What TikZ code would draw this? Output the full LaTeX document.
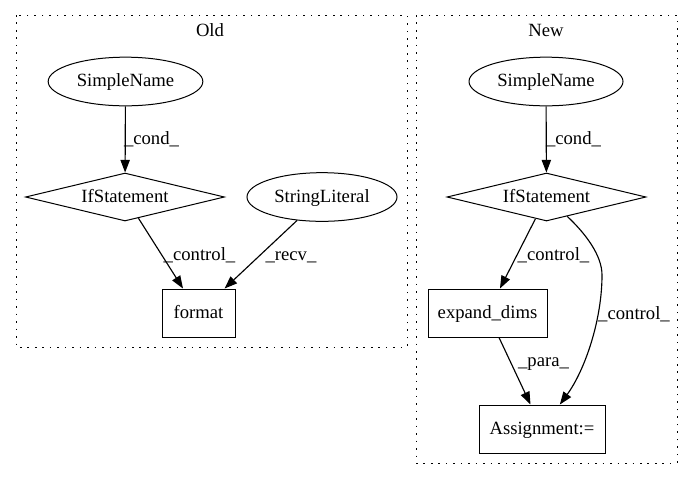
\documentclass[tikz,border=0pt]{standalone}
\usepackage{fontspec}
\setmainfont{Liberation Serif}
\usetikzlibrary{shapes.geometric,arrows.meta}
\begin{document}
\begin{tikzpicture}[x=0.75pt,y=-0.75pt,
  every node/.style={font=\fontsize{14pt}{16pt}\selectfont},
  base/.style={draw,line width=0.75pt,inner sep=0pt,text height=10pt,text depth=1.8pt},
  ell/.style={base,ellipse,minimum height=36.5pt},
  dia/.style={base,diamond,aspect=4.15,minimum width=149.25pt,minimum height=36pt},
  box/.style={base,rectangle,minimum height=36pt},
  edge/.style={line width=0.85pt,-{Triangle[length=9.5pt,width=7pt]}},
  lbl/.style={anchor=base,inner sep=0pt},
  cluster/.style={line width=0.75pt,dash pattern=on 1.2pt off 4.4pt}]
\useasboundingbox (0,0) rectangle (692,480);
% clusters
\draw[cluster] (16,15) rectangle (407,347);
\draw[cluster] (416,15) rectangle (677,463);
\node[lbl] (oldlbl) at (210,36) {Old};
\node[lbl] (newlbl) at (546,36) {New};
% Old nodes
\node[ell,minimum width=116pt] (sn1) at (125.5,81.5) {SimpleName};
\node[dia] (if1) at (125,197) {IfStatement};
\node[ell,minimum width=112.5pt] (sl) at (322,197) {StringLiteral};
\node[box,minimum width=54.75pt] (fmt) at (198.5,313) {format};
% New nodes
\node[ell,minimum width=115.5pt] (sn2) at (546,81.5) {SimpleName};
\node[dia] (if2) at (546.5,197) {IfStatement};
\node[box,minimum width=89.25pt] (exd) at (487.5,313) {expand\_dims};
\node[box,minimum width=94.5pt] (asg) at (542,429) {Assignment:=};
% Old edges
\draw[edge] (sn1) -- (if1);
\draw[edge] (if1) -- (fmt);
\draw[edge] (sl) -- (fmt);
\node[lbl] (l1) at (151.5,144) {\_cond\_};
\node[lbl] (l2) at (199.5,260) {\_control\_};
\node[lbl] (l3) at (291,260) {\_recv\_};
% New edges
\draw[edge] (sn2) -- (if2);
\draw[edge] (if2) -- (exd);
\coordinate (bend) at (602,275);
\draw[edge] (if2) .. controls (585,233) and (602,255) .. (bend) .. controls (602,320) and (585,370) .. (asg);
\draw[edge] (exd) -- (asg);
\node[lbl] (l4) at (573.5,144) {\_cond\_};
\node[lbl] (l5) at (553.5,260) {\_control\_};
\node[lbl] (l6) at (634,319) {\_control\_};
\node[lbl] (l7) at (543.5,366) {\_para\_};
\end{tikzpicture}
\end{document}
